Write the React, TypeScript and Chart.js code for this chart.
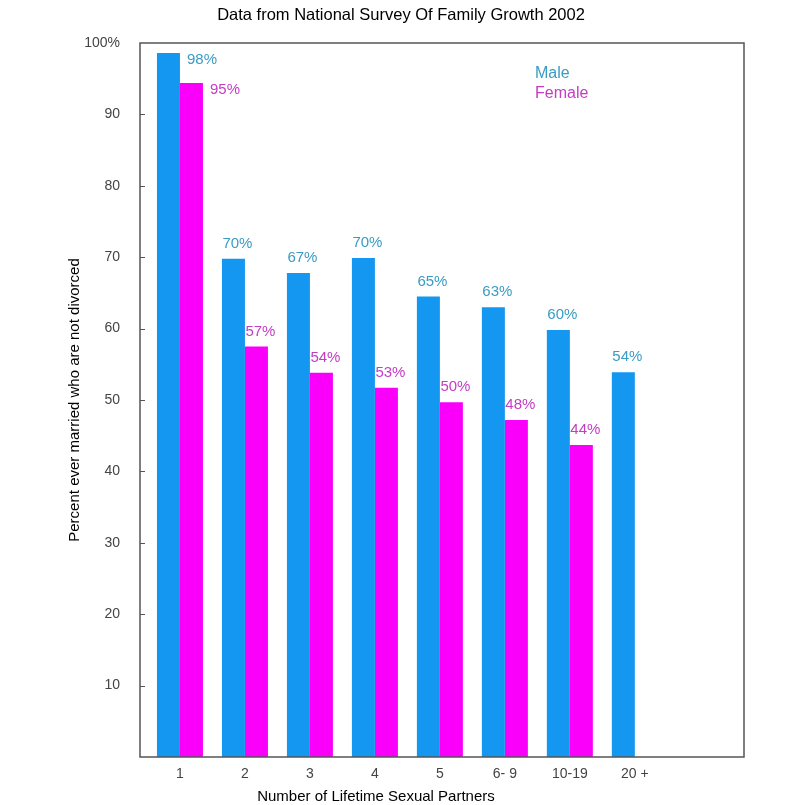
import { Chart, registerables, type ChartConfiguration, type Plugin } from "chart.js";
import { useEffect, useRef } from "react";

Chart.register(...registerables);

const categories = ["1", "2", "3", "4", "5", "6- 9", "10-19", "20 +"];
const maleValues = [98.6, 69.8, 67.8, 69.9, 64.5, 63.0, 59.8, 53.9];
const femaleValues: (number | null)[] = [94.4, 57.5, 53.8, 51.7, 49.7, 47.2, 43.7, null];
const maleLabels = ["98%", "70%", "67%", "70%", "65%", "63%", "60%", "54%"];
const femaleLabels = ["95%", "57%", "54%", "53%", "50%", "48%", "44%", ""];
const yTicks = [10, 20, 30, 40, 50, 60, 70, 80, 90, 100];

const FONT = "'Liberation Sans', Arial, sans-serif";
const MALE_BAR = "#1397f0";
const FEMALE_BAR = "#fa00fa";
const MALE_TEXT = "#3a9cc2";
const FEMALE_TEXT = "#c43cc4";
const FRAME = "#555555";

const valueLabels = [maleLabels, femaleLabels];
const labelColors = [MALE_TEXT, FEMALE_TEXT];

type BarProps = { x: number; y: number; width: number };

// box round the plot, with short inner ticks on the left side
const framePlugin: Plugin<"bar"> = {
  id: "frame",
  afterDraw(chart) {
    const { ctx, chartArea } = chart;
    const y = chart.scales.y;
    ctx.save();
    ctx.strokeStyle = FRAME;
    ctx.lineWidth = 1.5;
    ctx.strokeRect(chartArea.left, chartArea.top, chartArea.width, chartArea.height);
    ctx.lineWidth = 1;
    yTicks.slice(0, -1).forEach((v) => {
      const py = Math.round(y.getPixelForValue(v)) + 0.5;
      ctx.beginPath();
      ctx.moveTo(chartArea.left, py);
      ctx.lineTo(chartArea.left + 5, py);
      ctx.stroke();
    });
    ctx.restore();
  },
};

// percent labels above each bar, or beside it when the group reaches the top
const valueLabelPlugin: Plugin<"bar"> = {
  id: "valueLabels",
  afterDatasetsDraw(chart) {
    const { ctx, chartArea } = chart;
    const metas = chart.data.datasets.map((_, di) => chart.getDatasetMeta(di));
    ctx.save();
    ctx.font = `15px ${FONT}`;
    ctx.textBaseline = "middle";
    categories.forEach((_, i) => {
      const bars = metas.map((m) =>
        m.data[i] ? (m.data[i].getProps(["x", "y", "width"], true) as BarProps) : null,
      );
      const topMost = Math.min(...bars.map((b) => (b ? b.y : Infinity)));
      const beside = topMost - 24 < chartArea.top;
      bars.forEach((bar, di) => {
        const text = valueLabels[di][i];
        if (!bar || !text) return;
        ctx.fillStyle = labelColors[di];
        if (beside) {
          ctx.textAlign = "left";
          ctx.fillText(text, bar.x + bar.width / 2 + 7, bar.y + 7);
        } else {
          ctx.textAlign = "center";
          ctx.fillText(text, bar.x + 4, bar.y - 15);
        }
      });
    });
    ctx.restore();
  },
};

const legendPlugin: Plugin<"bar"> = {
  id: "textLegend",
  afterDraw(chart) {
    const { ctx, chartArea } = chart;
    ctx.save();
    ctx.font = `16px ${FONT}`;
    ctx.textAlign = "left";
    ctx.textBaseline = "middle";
    chart.data.datasets.forEach((ds, i) => {
      ctx.fillStyle = labelColors[i];
      ctx.fillText(String(ds.label), chartArea.left + 395, chartArea.top + 31 + i * 20);
    });
    ctx.restore();
  },
};

const xTitlePlugin: Plugin<"bar"> = {
  id: "xTitle",
  afterDraw(chart) {
    const { ctx, chartArea } = chart;
    ctx.save();
    ctx.font = `15px ${FONT}`;
    ctx.fillStyle = "#000000";
    ctx.textAlign = "center";
    ctx.textBaseline = "middle";
    ctx.fillText("Number of Lifetime Sexual Partners", chartArea.left + 236, chart.height - 8);
    ctx.restore();
  },
};

function buildConfig(): ChartConfiguration<"bar"> {
  return {
    type: "bar",
    data: {
      datasets: [
        {
          label: "Male",
          data: maleValues.map((v, i) => ({ x: i + 1, y: v })),
          backgroundColor: MALE_BAR,
        },
        {
          label: "Female",
          data: femaleValues.map((v, i) => ({ x: i + 1, y: v })) as any,
          backgroundColor: FEMALE_BAR,
        },
      ],
    },
    options: {
      responsive: true,
      maintainAspectRatio: false,
      animation: false,
      categoryPercentage: 0.708,
      barPercentage: 1,
      layout: { padding: { left: 58, right: 68, top: 0, bottom: 0 } },
      plugins: {
        legend: { display: false },
        tooltip: { enabled: false },
        title: {
          display: true,
          text: "Data from National Survey Of Family Growth 2002",
          color: "#000000",
          font: { family: FONT, size: 16.5, weight: "normal", lineHeight: 1.2 },
          padding: { top: 6, bottom: 17.2 },
        },
      },
      scales: {
        x: {
          type: "linear",
          min: 0.385,
          max: 9.68,
          offset: false,
          afterBuildTicks(scale) {
            scale.ticks = categories.map((_, i) => ({ value: i + 1 }));
          },
          afterFit(scale) {
            scale.height = 48;
          },
          grid: { display: false, drawTicks: false },
          border: { display: false },
          ticks: {
            autoSkip: false,
            maxRotation: 0,
            padding: 9,
            color: "#444444",
            font: { family: FONT, size: 14 },
            callback(_value, index) {
              return categories[index];
            },
          },
        },
        y: {
          min: 0,
          max: 100,
          afterBuildTicks(scale) {
            scale.ticks = yTicks.map((v) => ({ value: v }));
          },
          afterFit(scale) {
            scale.width = 82;
          },
          grid: { display: false, drawTicks: false },
          border: { display: false },
          ticks: {
            padding: 20,
            color: "#444444",
            font: { family: FONT, size: 14 },
            callback(value) {
              return Number(value) === 100 ? "100%" : String(value);
            },
          },
          title: {
            display: true,
            text: "Percent ever married who are not divorced",
            color: "#000000",
            font: { family: FONT, size: 15 },
            padding: { top: 8, bottom: 0 },
          },
        },
      },
    },
    plugins: [framePlugin, valueLabelPlugin, legendPlugin, xTitlePlugin],
  };
}

function SurveyChart() {
  const canvasRef = useRef<HTMLCanvasElement>(null);

  useEffect(() => {
    if (!canvasRef.current) {
      return;
    }
    const chart = new Chart(canvasRef.current, buildConfig());
    return () => {
      chart.destroy();
    };
  }, []);

  return <canvas ref={canvasRef} />;
}

export default function App() {
  return (
    <div
      style={{
        position: "absolute",
        left: 0,
        top: 0,
        width: 812,
        height: 805,
        background: "#ffffff",
      }}
    >
      <SurveyChart />
    </div>
  );
}
